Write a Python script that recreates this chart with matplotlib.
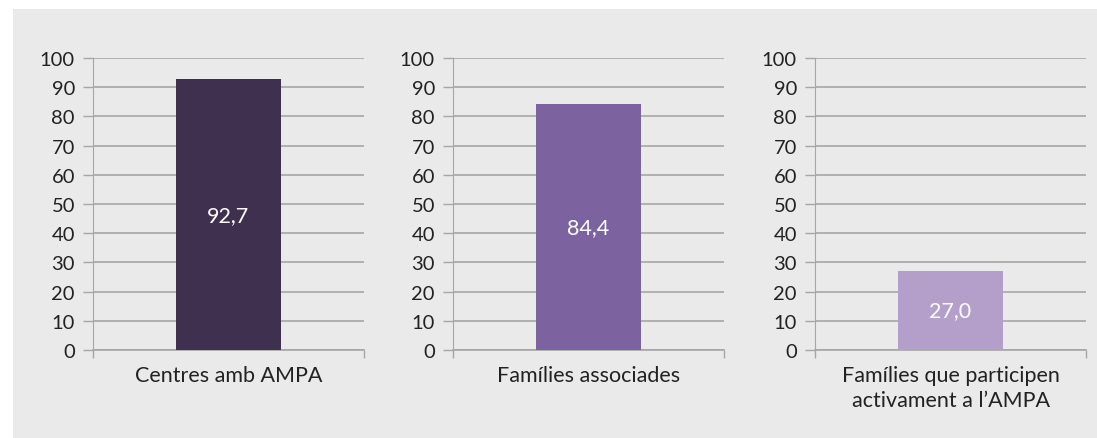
import matplotlib.pyplot as plt
from matplotlib.patches import Rectangle

# dades
categories = ['Centres amb AMPA', 'Famílies associades',
              'Famílies que participen\nactivament a l\u2019AMPA']
valors = [92.7, 84.4, 27.0]
etiquetes = ['92,7', '84,4', '27,0']
colors = ['#3f3050', '#7d62a0', '#b39fc9']
yticks = [0, 10, 20, 30, 40, 50, 60, 70, 80, 90, 100]

W, H = 1097, 439
fig = plt.figure(figsize=(W / 100, H / 100), dpi=100)
fig.patch.set_facecolor('white')
fig.patches.append(Rectangle((13 / W, 0), (W - 13) / W, (H - 10) / H,
                             transform=fig.transFigure, facecolor='#e9eae9',
                             edgecolor='none', zorder=-10))

plt.rcParams['font.family'] = ['Lato', 'DejaVu Sans']

esquerres = [93, 453, 815]
amplada = 271
y0, y1 = 351, 59

for i in range(3):
    ax = fig.add_axes([esquerres[i] / W, (H - y0) / H, amplada / W, (y0 - y1) / H])
    ax.set_facecolor('none')
    ax.bar([0], [valors[i]], width=0.387, color=colors[i], zorder=3)
    ax.text(0, valors[i] / 2, etiquetes[i], ha='center', va='center',
            color='white', fontsize=15.5, zorder=4)
    ax.set_xlim(-0.5, 0.5)
    ax.set_ylim(0, 100)
    ax.set_yticks(yticks)
    ax.set_yticklabels([str(v) for v in yticks], fontsize=14.5, color='#222222')
    ax.yaxis.grid(True, color='#a6a6a6', linewidth=1.2, zorder=1)
    ax.set_xticks([-0.5, 0.5])
    ax.set_xticklabels(['', ''])
    ax.tick_params(axis='x', length=6, color='#a6a6a6', width=1)
    ax.tick_params(axis='y', length=7, color='#a6a6a6', width=1, pad=6)
    for s in ['top', 'right']:
        ax.spines[s].set_visible(False)
    ax.spines['left'].set_color('#a6a6a6')
    ax.spines['bottom'].set_color('#a6a6a6')
    ax.spines['bottom'].set_linewidth(1.2)
    ax.text(0, -0.05, categories[i], transform=ax.get_xaxis_transform(),
            ha='center', va='top', fontsize=15.5, color='#222222',
            linespacing=1.35)

fig.savefig('out.png', dpi=100)
